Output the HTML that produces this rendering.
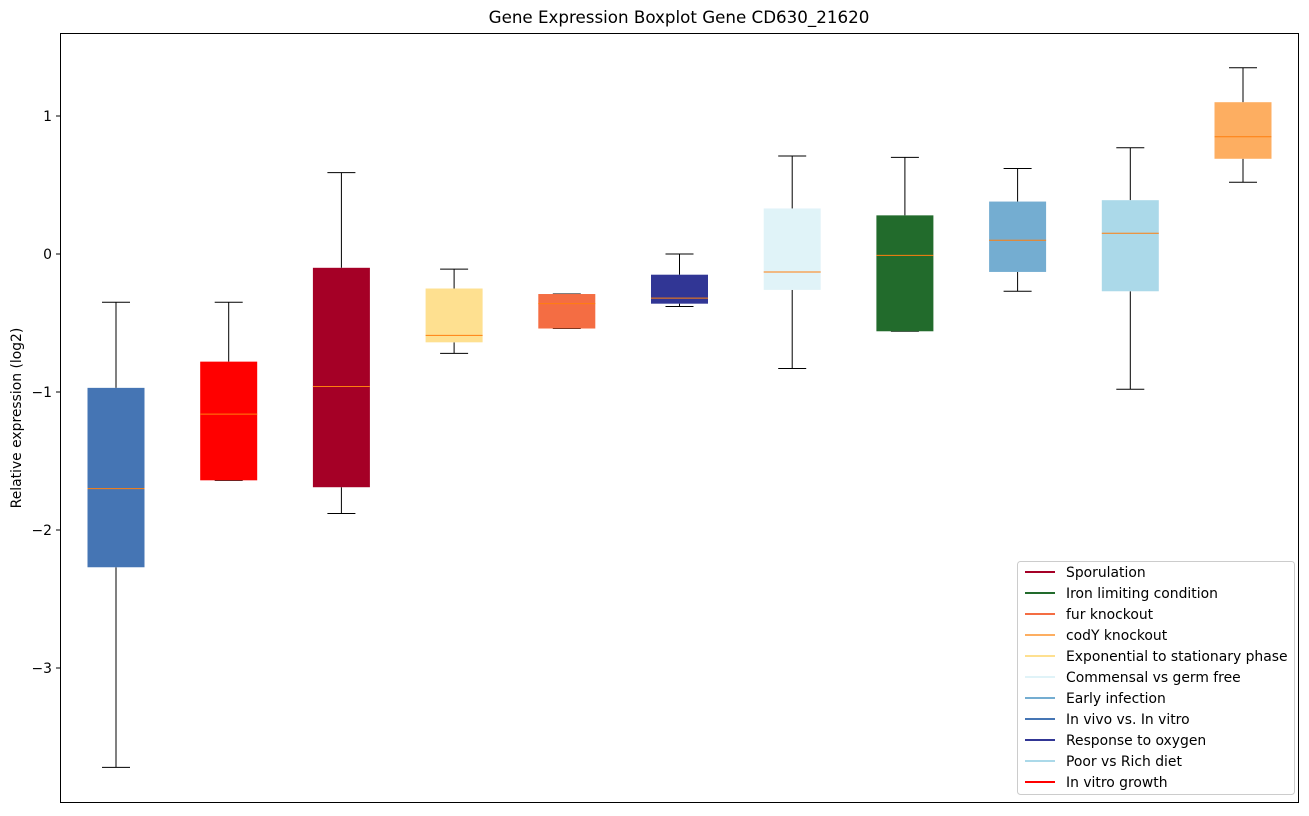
<!DOCTYPE html>
<html><head><meta charset="utf-8"><style>
body{margin:0;background:#fff;font-family:"DejaVu Sans","Liberation Sans",sans-serif}
</style></head><body>
<svg id="chart" width="1309" height="812" xmlns="http://www.w3.org/2000/svg" font-family="DejaVu Sans, Liberation Sans, sans-serif">
<rect x="0" y="0" width="1309" height="812" fill="#fff"/>
<text x="679" y="23" text-anchor="middle" font-size="16.7">Gene Expression Boxplot Gene CD630_21620</text>
<text transform="translate(21,418) rotate(-90)" text-anchor="middle" font-size="13.9">Relative expression (log2)</text>
<g id="plot"></g>
<rect x="60.5" y="33.5" width="1238" height="769" fill="none" stroke="#000" stroke-width="1"/>
<g id="legend"></g>
</svg>
<script>
const categories=["In vivo vs. In vitro","In vitro growth","Sporulation","Exponential to stationary phase","fur knockout","Response to oxygen","Commensal vs germ free","Iron limiting condition","Early infection","Poor vs Rich diet","codY knockout"];
const colors=["#4575b4","#ff0000","#a50026","#fee090","#f46d43","#313695","#e0f3f8","#226b2c","#74add1","#abd9e9","#fdae61"];
const whiskerHigh=[-0.35,-0.35,0.59,-0.11,-0.29,0.0,0.71,0.70,0.62,0.77,1.35];
const q3=[-0.97,-0.78,-0.10,-0.25,-0.29,-0.15,0.33,0.28,0.38,0.39,1.10];
const medians=[-1.70,-1.16,-0.96,-0.59,-0.36,-0.32,-0.13,-0.01,0.10,0.15,0.85];
const q1=[-2.27,-1.64,-1.69,-0.64,-0.54,-0.36,-0.26,-0.56,-0.13,-0.27,0.69];
const whiskerLow=[-3.72,-1.64,-1.88,-0.72,-0.54,-0.38,-0.83,-0.56,-0.27,-0.98,0.52];
const yTicks=[1,0,-1,-2,-3];
const legendOrder=["Sporulation","Iron limiting condition","fur knockout","codY knockout","Exponential to stationary phase","Commensal vs germ free","Early infection","In vivo vs. In vitro","Response to oxygen","Poor vs Rich diet","In vitro growth"];
const NS="http://www.w3.org/2000/svg";
const y=v=>254-v*138;
const x=i=>116+i*112.7;
const plot=document.getElementById('plot');
function mk(tag,attrs,parent){const e=document.createElementNS(NS,tag);for(const k in attrs)e.setAttribute(k,attrs[k]);parent.appendChild(e);return e;}
yTicks.forEach(t=>{
 const g=mk('g',{},plot);
 
 
 mk('line',{x1:56,x2:60,y1:y(t),y2:y(t),stroke:'#000'},g);
 const tx=mk('text',{x:52,y:y(t)+5,'text-anchor':'end','font-size':13.9},g);
 tx.textContent=(t<0?'\u2212'+(-t):t);
});
categories.forEach((c,i)=>{
 const g=mk('g',{},plot);
 
 
 const cx=x(i),hw=28.5,cw=14;
 mk('line',{x1:cx,x2:cx,y1:y(whiskerHigh[i]),y2:y(q3[i]),stroke:'#000'},g);
 mk('line',{x1:cx,x2:cx,y1:y(q1[i]),y2:y(whiskerLow[i]),stroke:'#000'},g);
 mk('line',{x1:cx-cw,x2:cx+cw,y1:y(whiskerHigh[i]),y2:y(whiskerHigh[i]),stroke:'#000'},g);
 mk('line',{x1:cx-cw,x2:cx+cw,y1:y(whiskerLow[i]),y2:y(whiskerLow[i]),stroke:'#000'},g);
 mk('rect',{x:cx-hw,y:y(q3[i]),width:hw*2,height:Math.max(1,y(q1[i])-y(q3[i])),fill:colors[i]},g);
 mk('line',{x1:cx-hw,x2:cx+hw,y1:y(medians[i]),y2:y(medians[i]),stroke:'#ff7f0e'},g);
});
const lg=document.getElementById('legend');


mk('rect',{x:1017.5,y:561.5,width:277,height:233,rx:3,fill:'#fff',stroke:'#ccc'},lg);
legendOrder.forEach((n,j)=>{
 const g=mk('g',{},lg);
 
 
 const yy=572+j*21;
 mk('line',{x1:1025,x2:1055,y1:yy,y2:yy,stroke:colors[categories.indexOf(n)],'stroke-width':2},g);
 const t=mk('text',{x:1066,y:yy+5,'font-size':13.9},g);
 t.textContent=n;
});
</script>
</body></html>
